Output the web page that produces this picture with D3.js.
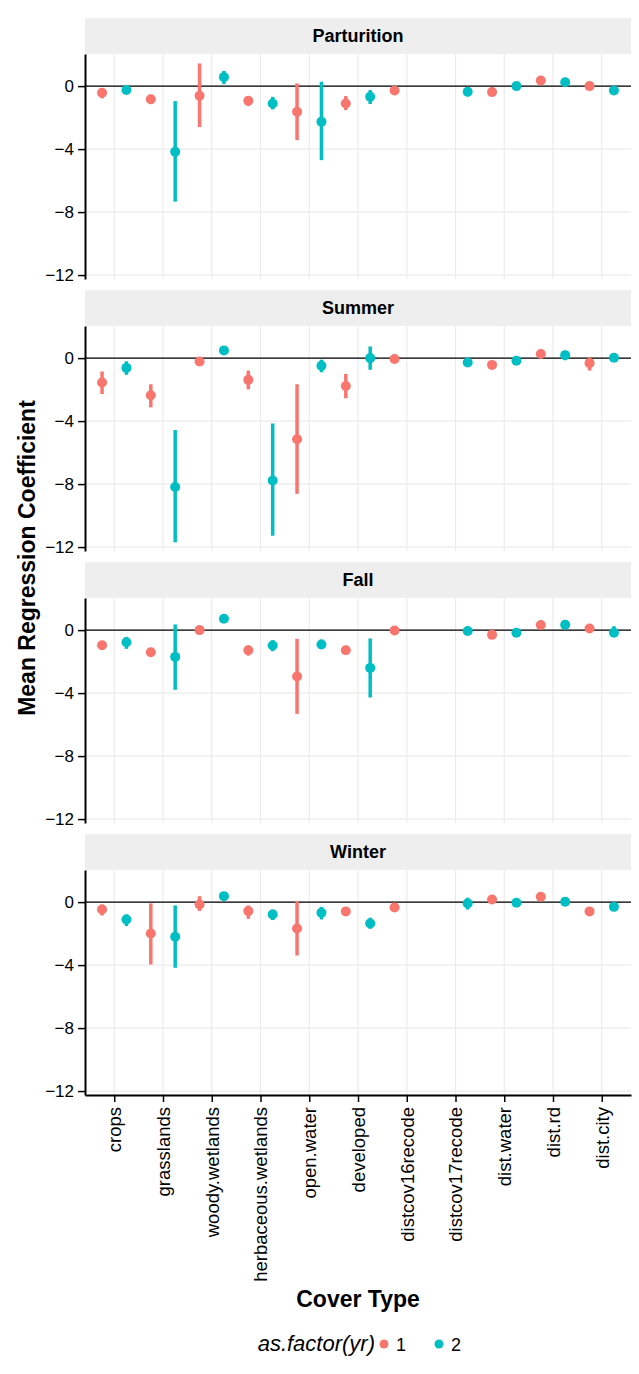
<!DOCTYPE html>
<html>
<head>
<meta charset="utf-8">
<script src="https://cdn.jsdelivr.net/npm/d3@7"></script>
<style>
  body { margin: 0; background: #fff; }
  text { font-family: "Liberation Sans", Arial, sans-serif; }
</style>
</head>
<body>
<svg id="chart"></svg>
<script>
const categories = ["crops", "grasslands", "woody.wetlands", "herbaceous.wetlands", "open.water",
  "developed", "distcov16recode", "distcov17recode", "dist.water", "dist.rd", "dist.city"];
const seasons = ["Parturition", "Summer", "Fall", "Winter"];
const years = ["1", "2"];
const yTicks = [-12, -8, -4, 0];

// [mean, lower, upper] per category, null where that year has no estimate
const parturitionYr1 = [[-0.42, -0.78, -0.12], [-0.83, -1.14, -0.55], [-0.61, -2.6, 1.44], [-0.93, -1.27, -0.63],
  [-1.63, -3.43, 0.17], [-1.1, -1.52, -0.63], [-0.28, -0.45, -0.1], null, [-0.38, -0.5, -0.26], [0.36, 0.24, 0.48], [0.0, -0.25, 0.22]];
const parturitionYr2 = [[-0.25, -0.45, 0.0], [-4.17, -7.34, -0.95], [0.57, 0.13, 0.97], [-1.1, -1.48, -0.68],
  [-2.26, -4.7, 0.28], [-0.68, -1.14, -0.25], null, [-0.36, -0.65, -0.08], [0.0, -0.1, 0.1], [0.25, 0.13, 0.37], [-0.28, -0.4, -0.16]];
const summerYr1 = [[-1.55, -2.28, -0.85], [-2.36, -3.13, -1.66], [-0.21, -0.38, -0.05], [-1.38, -1.98, -0.79],
  [-5.15, -8.62, -1.66], [-1.77, -2.55, -1.0], [-0.06, -0.18, 0.06], null, [-0.43, -0.55, -0.31], [0.26, 0.14, 0.38], [-0.32, -0.79, 0.04]];
const summerYr2 = [[-0.62, -1.06, -0.2], [-8.19, -11.7, -4.57], [0.49, 0.35, 0.63], [-7.77, -11.28, -4.15],
  [-0.49, -0.9, -0.1], [0.0, -0.74, 0.74], null, [-0.28, -0.4, -0.16], [-0.17, -0.3, -0.04], [0.19, -0.13, 0.47], [0.02, -0.1, 0.14]];
const fallYr1 = [[-0.96, -1.22, -0.7], [-1.4, -1.55, -1.25], [0.0, -0.12, 0.12], [-1.28, -1.62, -0.98],
  [-2.94, -5.32, -0.55], [-1.28, -1.42, -1.14], [-0.02, -0.14, 0.1], null, [-0.3, -0.42, -0.18], [0.32, 0.2, 0.44], [0.1, -0.02, 0.22]];
const fallYr2 = [[-0.77, -1.19, -0.43], [-1.7, -3.79, 0.36], [0.72, 0.6, 0.84], [-0.98, -1.34, -0.64],
  [-0.91, -1.2, -0.6], [-2.4, -4.28, -0.53], null, [-0.06, -0.18, 0.06], [-0.17, -0.29, -0.05], [0.34, 0.22, 0.46], [-0.17, -0.43, 0.25]];
const winterYr1 = [[-0.47, -0.85, -0.15], [-1.99, -3.96, -0.08], [-0.15, -0.57, 0.38], [-0.57, -1.06, -0.21],
  [-1.67, -3.39, 0.06], [-0.59, -0.71, -0.47], [-0.34, -0.46, -0.22], null, [0.17, 0.05, 0.29], [0.34, 0.22, 0.46], [-0.59, -0.71, -0.47]];
const winterYr2 = [[-1.1, -1.52, -0.78], [-2.2, -4.17, -0.21], [0.38, 0.13, 0.63], [-0.78, -1.14, -0.47],
  [-0.68, -1.1, -0.3], [-1.35, -1.69, -0.99], null, [-0.08, -0.47, 0.28], [-0.04, -0.16, 0.08], [0.02, -0.1, 0.14], [-0.3, -0.42, -0.18]];

const seasonData = {
  Parturition: [parturitionYr1, parturitionYr2],
  Summer: [summerYr1, summerYr2],
  Fall: [fallYr1, fallYr2],
  Winter: [winterYr1, winterYr2]
};

const width = 639, height = 1374;
const left = 85, right = 631;
const firstStrip = 18, stripH = 36, plotH = 225, panelGap = 11;
const colors = d3.scaleOrdinal().domain(years).range(["#F8766D", "#00BFC4"]);

const svg = d3.select("#chart").attr("width", width).attr("height", height);

const x = d3.scalePoint().domain(categories).range([left, right]).padding(0.6);
const dodge = x.step() * 0.25;
const y = d3.scaleLinear().domain([-12.25, 2.04]).range([plotH, 0]);

seasons.forEach((season, si) => {
  const stripTop = firstStrip + si * (stripH + plotH + panelGap);
  const plotTop = stripTop + stripH;

  // strip
  svg.append("rect").attr("x", left).attr("y", stripTop)
    .attr("width", right - left).attr("height", stripH).attr("fill", "#EEEEEE");
  svg.append("text").attr("x", (left + right) / 2).attr("y", stripTop + 24)
    .attr("text-anchor", "middle").attr("font-size", 18).attr("font-weight", "bold")
    .text(season);

  const g = svg.append("g").attr("transform", `translate(0,${plotTop})`);

  // grid
  g.selectAll(".hgrid").data(yTicks).enter().append("line")
    .attr("x1", left).attr("x2", right).attr("y1", d => y(d)).attr("y2", d => y(d))
    .attr("stroke", "#EBEBEB").attr("stroke-width", 1.2);
  g.selectAll(".vgrid").data(categories).enter().append("line")
    .attr("x1", d => x(d)).attr("x2", d => x(d)).attr("y1", 0).attr("y2", plotH)
    .attr("stroke", "#EBEBEB").attr("stroke-width", 1.2);

  // zero line
  g.append("line").attr("x1", left).attr("x2", right).attr("y1", y(0)).attr("y2", y(0))
    .attr("stroke", "#000").attr("stroke-width", 1.3);

  // point ranges
  seasonData[season].forEach((series, yi) => {
    const pts = series.map((v, i) => v ? { cat: categories[i], m: v[0], lo: v[1], hi: v[2] } : null)
      .filter(d => d);
    const off = yi === 0 ? -dodge : dodge;
    g.selectAll(null).data(pts).enter().append("line")
      .attr("x1", d => x(d.cat) + off).attr("x2", d => x(d.cat) + off)
      .attr("y1", d => y(d.lo)).attr("y2", d => y(d.hi))
      .attr("stroke", colors(years[yi])).attr("stroke-width", 3.5);
    g.selectAll(null).data(pts).enter().append("circle")
      .attr("cx", d => x(d.cat) + off).attr("cy", d => y(d.m)).attr("r", 5)
      .attr("fill", colors(years[yi]));
  });

  // y axis
  const ya = g.append("g").attr("transform", `translate(${left},0)`)
    .call(d3.axisLeft(y).tickValues(yTicks).tickFormat(d3.format("d")).tickSize(7).tickSizeOuter(0).tickPadding(4));
  ya.select(".domain").attr("stroke", "#000").attr("stroke-width", 2);
  ya.selectAll(".tick line").attr("stroke", "#000").attr("stroke-width", 1.5);
  ya.selectAll(".tick text").attr("font-size", 17).attr("fill", "#000")
    .style("font-family", "'Liberation Sans', Arial, sans-serif");

  // x axis on bottom panel only
  if (si === seasons.length - 1) {
    const xa = g.append("g").attr("transform", `translate(0,${plotH})`)
      .call(d3.axisBottom(x).tickSize(7).tickSizeOuter(0));
    xa.select(".domain").attr("stroke", "#000").attr("stroke-width", 2);
    xa.selectAll(".tick line").attr("stroke", "#000").attr("stroke-width", 1.5);
    xa.selectAll(".tick text")
      .attr("font-size", 18.5).attr("fill", "#000")
      .style("font-family", "'Liberation Sans', Arial, sans-serif")
      .attr("transform", "rotate(-90)")
      .attr("x", -12).attr("y", 0).attr("dy", "0.35em")
      .style("text-anchor", "end");
  }
});

// axis titles
svg.append("text")
  .attr("transform", "translate(35,558) rotate(-90)")
  .attr("text-anchor", "middle").attr("font-size", 23).attr("font-weight", "bold")
  .text("Mean Regression Coefficient");
svg.append("text").attr("x", (left + right) / 2).attr("y", 1307)
  .attr("text-anchor", "middle").attr("font-size", 23).attr("font-weight", "bold")
  .text("Cover Type");

// legend
const legend = svg.append("g").attr("transform", "translate(0,1351)");
legend.append("text").attr("x", 375).attr("y", 0).attr("text-anchor", "end")
  .attr("font-size", 22).attr("font-style", "italic").text("as.factor(yr)");
const legendX = [384, 439];
years.forEach((yr, i) => {
  legend.append("circle").attr("cx", legendX[i]).attr("cy", -7).attr("r", 4.5).attr("fill", colors(yr));
  legend.append("text").attr("x", legendX[i] + 12).attr("y", 0).attr("font-size", 18).text(yr);
});
</script>
</body>
</html>
